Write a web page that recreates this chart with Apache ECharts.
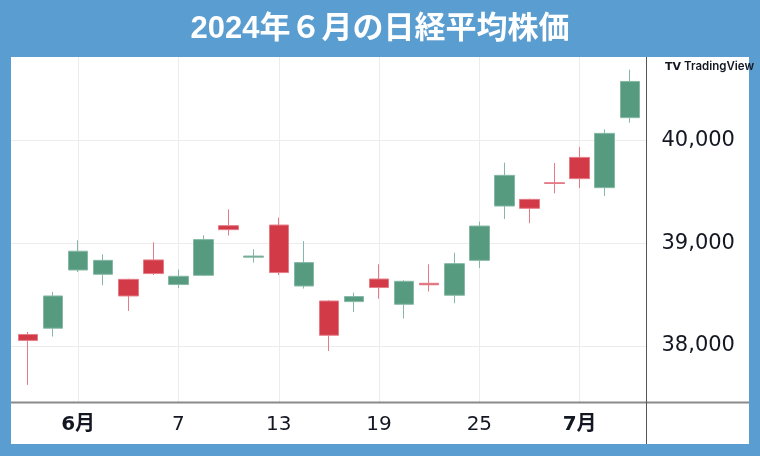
<!DOCTYPE html>
<html>
<head>
<meta charset="utf-8">
<script src="https://cdn.jsdelivr.net/npm/echarts@6/dist/echarts.min.js"></script>
<style>html,body{margin:0;padding:0;background:#5a9dd0;}#chart{width:760px;height:456px;}</style>
</head>
<body>
<div id="chart"></div>
<script>
const dates = ['5/30','5/31','6/3','6/4','6/5','6/6','6/7','6/10','6/11','6/12','6/13','6/14','6/17','6/18','6/19','6/20','6/21','6/24','6/25','6/26','6/27','6/28','7/1','7/2','7/3'];
const openV  = [38112,38173,38740,38698,38649,38838,38598,38688,39172,38865,39178,38584,38438,38432,38652,38406,38610,38494,38834,39363,39428,39590,39837,39542,40224];
const closeV = [38054,38487,38923,38834,38487,38705,38679,39036,39133,38876,38715,38812,38104,38481,38569,38630,38596,38802,39168,39662,39341,39583,39630,40071,40577];
const lowV   = [37620,38092,38720,38591,38341,38691,38565,38680,39075,38812,38691,38559,37951,38331,38461,38267,38530,38416,38760,39237,39195,39487,39538,39461,40175];
const highV  = [38136,38526,39029,38893,38655,39010,38744,39078,39331,38942,39250,39022,38445,38520,38796,38640,38796,38909,39211,39786,39435,39782,39938,40110,40691];
const xTickIdx  = [2,6,10,14,18,22];
const xTickText = ['6月','7','13','19','25','7月'];
const yTicks = [38000,39000,40000];

const candleData = dates.map((d,i)=>[i, openV[i], closeV[i], lowV[i], highV[i]]);

const chart = echarts.init(document.getElementById('chart'), null, {renderer:'canvas'});
chart.setOption({
  backgroundColor:'#5a9dd0',
  animation:false,
  title:{
    text:'2024年６月の日経平均株価',
    left:'center', top:9,
    textStyle:{color:'#ffffff', fontSize:31, fontWeight:'bold', fontFamily:'"Liberation Sans", "Noto Sans CJK JP", sans-serif'}
  },
  graphic:[
    {type:'rect', z:-10, shape:{x:11,y:57,width:738,height:387}, style:{fill:'#ffffff'}},
    {type:'line', z:5, shape:{x1:11,y1:402.5,x2:749,y2:402.5}, style:{stroke:'#8a8a8a', lineWidth:2}},
    {type:'line', z:5, shape:{x1:646.5,y1:57,x2:646.5,y2:444}, style:{stroke:'#555555', lineWidth:1}},
    {type:'text', z:6, left:665, top:61, style:{
      text:'{logo|TV}{name|TradingView}',
      rich:{
        logo:{fontSize:11, fontWeight:900, fill:'#131722', fontFamily:'"DejaVu Sans", sans-serif', padding:[0,3,0,0]},
        name:{fontSize:11.5, fontWeight:600, fill:'#131722', fontFamily:'"Inter", "Liberation Sans", sans-serif'}
      }
    }}
  ],
  grid:{left:11, right:113.5, top:57, bottom:54, containLabel:false},
  xAxis:{
    type:'value', min:-0.678, max:24.666,
    axisLine:{show:false},
    axisTick:{show:false, customValues:xTickIdx},
    splitLine:{show:true, lineStyle:{color:'#ececec', width:1}},
    axisLabel:{
      customValues:xTickIdx,
      margin:13,
      formatter:function(v){
        const k = xTickIdx.indexOf(Math.round(v));
        if(k<0) return '';
        const t = xTickText[k];
        return t.indexOf('月')>=0 ? '{b|'+t+'}' : '{n|'+t+'}';
      },
      rich:{
        b:{fontSize:20, fontWeight:'bold', color:'#131722', fontFamily:'"DejaVu Sans", "Noto Sans CJK JP", sans-serif'},
        n:{fontSize:20, color:'#131722', fontFamily:'"DejaVu Sans", sans-serif'}
      }
    }
  },
  yAxis:{
    type:'value', position:'right', min:37454, max:40815, scale:true,
    axisLine:{show:false},
    axisTick:{show:false, customValues:yTicks},
    splitLine:{show:true, lineStyle:{color:'#ececec', width:1}},
    axisLabel:{
      customValues:yTicks,
      margin:15,
      color:'#131722', fontSize:21, fontFamily:'"DejaVu Sans", sans-serif',
      formatter:function(v){return String(v).replace(/\B(?=(\d{3})+(?!\d))/g, ',');}
    }
  },
  series:[{
    type:'candlestick',
    data:candleData,
    encode:{x:0, y:[1,2,3,4]},
    barWidth:20,
    itemStyle:{
      color:'#569a80', color0:'#d23a48',
      borderColor:'#86b9a5', borderColor0:'#e47c87',
      borderWidth:1
    }
  }]
});
</script>
</body>
</html>
